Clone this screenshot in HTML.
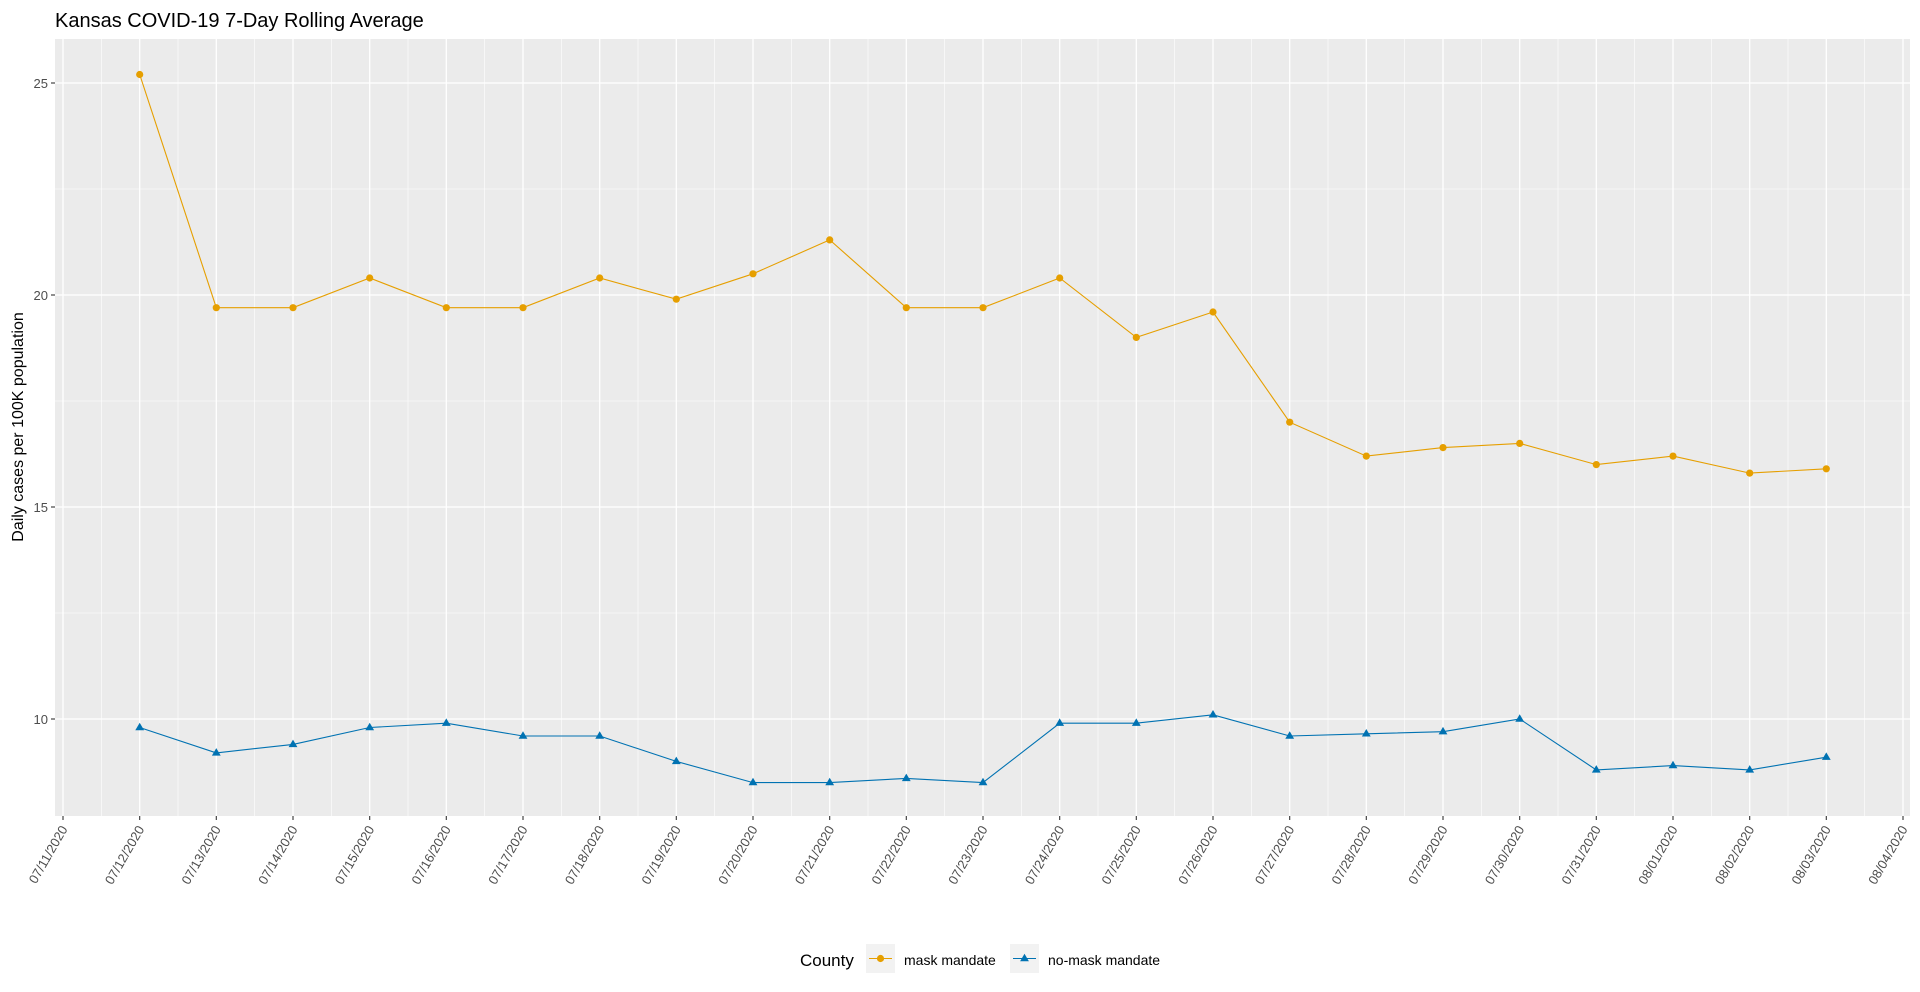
<!DOCTYPE html>
<html><head><meta charset="utf-8"><style>html,body{margin:0;padding:0;background:#fff;}svg{display:block;font-family:"Liberation Sans",Arial,sans-serif;}</style></head>
<body>
<svg width="1920" height="992" viewBox="0 0 1920 992" xmlns="http://www.w3.org/2000/svg">
<rect width="1920" height="992" fill="#fff"/>
<text x="55" y="27" font-size="20" fill="#000">Kansas COVID-19 7-Day Rolling Average</text>
<rect x="55" y="39" width="1855" height="777" fill="#ebebeb"/>
<g stroke="#fff" stroke-width="0.6">
<line x1="55" x2="1910" y1="189" y2="189"/><line x1="55" x2="1910" y1="401" y2="401"/><line x1="55" x2="1910" y1="613" y2="613"/>
<line x1="101.3" x2="101.3" y1="39" y2="816"/><line x1="178" x2="178" y1="39" y2="816"/><line x1="254.7" x2="254.7" y1="39" y2="816"/><line x1="331.3" x2="331.3" y1="39" y2="816"/><line x1="408" x2="408" y1="39" y2="816"/><line x1="484.7" x2="484.7" y1="39" y2="816"/><line x1="561.3" x2="561.3" y1="39" y2="816"/><line x1="638" x2="638" y1="39" y2="816"/><line x1="714.7" x2="714.7" y1="39" y2="816"/><line x1="791.3" x2="791.3" y1="39" y2="816"/><line x1="868" x2="868" y1="39" y2="816"/><line x1="944.7" x2="944.7" y1="39" y2="816"/><line x1="1021.3" x2="1021.3" y1="39" y2="816"/><line x1="1098" x2="1098" y1="39" y2="816"/><line x1="1174.7" x2="1174.7" y1="39" y2="816"/><line x1="1251.3" x2="1251.3" y1="39" y2="816"/><line x1="1328" x2="1328" y1="39" y2="816"/><line x1="1404.7" x2="1404.7" y1="39" y2="816"/><line x1="1481.3" x2="1481.3" y1="39" y2="816"/><line x1="1558" x2="1558" y1="39" y2="816"/><line x1="1634.7" x2="1634.7" y1="39" y2="816"/><line x1="1711.3" x2="1711.3" y1="39" y2="816"/><line x1="1788" x2="1788" y1="39" y2="816"/><line x1="1864.7" x2="1864.7" y1="39" y2="816"/>
</g>
<g stroke="#fff" stroke-width="1.3">
<line x1="55" x2="1910" y1="83" y2="83"/><line x1="55" x2="1910" y1="295" y2="295"/><line x1="55" x2="1910" y1="507" y2="507"/><line x1="55" x2="1910" y1="719" y2="719"/>
<line x1="63" x2="63" y1="39" y2="816"/><line x1="139.7" x2="139.7" y1="39" y2="816"/><line x1="216.3" x2="216.3" y1="39" y2="816"/><line x1="293" x2="293" y1="39" y2="816"/><line x1="369.7" x2="369.7" y1="39" y2="816"/><line x1="446.3" x2="446.3" y1="39" y2="816"/><line x1="523" x2="523" y1="39" y2="816"/><line x1="599.7" x2="599.7" y1="39" y2="816"/><line x1="676.3" x2="676.3" y1="39" y2="816"/><line x1="753" x2="753" y1="39" y2="816"/><line x1="829.7" x2="829.7" y1="39" y2="816"/><line x1="906.3" x2="906.3" y1="39" y2="816"/><line x1="983" x2="983" y1="39" y2="816"/><line x1="1059.7" x2="1059.7" y1="39" y2="816"/><line x1="1136.3" x2="1136.3" y1="39" y2="816"/><line x1="1213" x2="1213" y1="39" y2="816"/><line x1="1289.7" x2="1289.7" y1="39" y2="816"/><line x1="1366.3" x2="1366.3" y1="39" y2="816"/><line x1="1443" x2="1443" y1="39" y2="816"/><line x1="1519.7" x2="1519.7" y1="39" y2="816"/><line x1="1596.3" x2="1596.3" y1="39" y2="816"/><line x1="1673" x2="1673" y1="39" y2="816"/><line x1="1749.7" x2="1749.7" y1="39" y2="816"/><line x1="1826.3" x2="1826.3" y1="39" y2="816"/><line x1="1903" x2="1903" y1="39" y2="816"/>
</g>
<polyline fill="none" stroke="#e69f00" stroke-width="1.1" points="139.7,74.5 216.3,307.7 293,307.7 369.7,278 446.3,307.7 523,307.7 599.7,278 676.3,299.2 753,273.8 829.7,239.9 906.3,307.7 983,307.7 1059.7,278 1136.3,337.4 1213,312 1289.7,422.2 1366.3,456.1 1443,447.6 1519.7,443.4 1596.3,464.6 1673,456.1 1749.7,473.1 1826.3,468.8"/>
<g fill="#e69f00">
<circle cx="139.7" cy="74.5" r="3.6"/><circle cx="216.3" cy="307.7" r="3.6"/><circle cx="293" cy="307.7" r="3.6"/><circle cx="369.7" cy="278" r="3.6"/><circle cx="446.3" cy="307.7" r="3.6"/><circle cx="523" cy="307.7" r="3.6"/><circle cx="599.7" cy="278" r="3.6"/><circle cx="676.3" cy="299.2" r="3.6"/><circle cx="753" cy="273.8" r="3.6"/><circle cx="829.7" cy="239.9" r="3.6"/><circle cx="906.3" cy="307.7" r="3.6"/><circle cx="983" cy="307.7" r="3.6"/><circle cx="1059.7" cy="278" r="3.6"/><circle cx="1136.3" cy="337.4" r="3.6"/><circle cx="1213" cy="312" r="3.6"/><circle cx="1289.7" cy="422.2" r="3.6"/><circle cx="1366.3" cy="456.1" r="3.6"/><circle cx="1443" cy="447.6" r="3.6"/><circle cx="1519.7" cy="443.4" r="3.6"/><circle cx="1596.3" cy="464.6" r="3.6"/><circle cx="1673" cy="456.1" r="3.6"/><circle cx="1749.7" cy="473.1" r="3.6"/><circle cx="1826.3" cy="468.8" r="3.6"/>
</g>
<polyline fill="none" stroke="#0072b2" stroke-width="1.1" points="139.7,727.5 216.3,752.9 293,744.4 369.7,727.5 446.3,723.2 523,736 599.7,736 676.3,761.4 753,782.6 829.7,782.6 906.3,778.4 983,782.6 1059.7,723.2 1136.3,723.2 1213,714.8 1289.7,736 1366.3,733.8 1443,731.7 1519.7,719 1596.3,769.9 1673,765.6 1749.7,769.9 1826.3,757.2"/>
<g fill="#0072b2">
<path d="M139.7,722.7 l4.4,7.5 h-8.8z"/><path d="M216.3,748.1 l4.4,7.5 h-8.8z"/><path d="M293,739.6 l4.4,7.5 h-8.8z"/><path d="M369.7,722.7 l4.4,7.5 h-8.8z"/><path d="M446.3,718.4 l4.4,7.5 h-8.8z"/><path d="M523,731.2 l4.4,7.5 h-8.8z"/><path d="M599.7,731.2 l4.4,7.5 h-8.8z"/><path d="M676.3,756.6 l4.4,7.5 h-8.8z"/><path d="M753,777.8 l4.4,7.5 h-8.8z"/><path d="M829.7,777.8 l4.4,7.5 h-8.8z"/><path d="M906.3,773.6 l4.4,7.5 h-8.8z"/><path d="M983,777.8 l4.4,7.5 h-8.8z"/><path d="M1059.7,718.4 l4.4,7.5 h-8.8z"/><path d="M1136.3,718.4 l4.4,7.5 h-8.8z"/><path d="M1213,710 l4.4,7.5 h-8.8z"/><path d="M1289.7,731.2 l4.4,7.5 h-8.8z"/><path d="M1366.3,729 l4.4,7.5 h-8.8z"/><path d="M1443,726.9 l4.4,7.5 h-8.8z"/><path d="M1519.7,714.2 l4.4,7.5 h-8.8z"/><path d="M1596.3,765.1 l4.4,7.5 h-8.8z"/><path d="M1673,760.8 l4.4,7.5 h-8.8z"/><path d="M1749.7,765.1 l4.4,7.5 h-8.8z"/><path d="M1826.3,752.4 l4.4,7.5 h-8.8z"/>
</g>
<g stroke="#333" stroke-width="1.1">
<line x1="51" x2="55" y1="83" y2="83"/><line x1="51" x2="55" y1="295" y2="295"/><line x1="51" x2="55" y1="507" y2="507"/><line x1="51" x2="55" y1="719" y2="719"/>
</g>
<g font-size="13" fill="#4d4d4d" text-anchor="end">
<text x="48" y="88">25</text><text x="48" y="300">20</text><text x="48" y="512">15</text><text x="48" y="724">10</text>
</g>
<text transform="translate(23,427) rotate(-90)" font-size="16" text-anchor="middle" fill="#000">Daily cases per 100K population</text>
<g stroke="#333" stroke-width="1.1">
<line x1="63" x2="63" y1="816" y2="820"/><line x1="139.7" x2="139.7" y1="816" y2="820"/><line x1="216.3" x2="216.3" y1="816" y2="820"/><line x1="293" x2="293" y1="816" y2="820"/><line x1="369.7" x2="369.7" y1="816" y2="820"/><line x1="446.3" x2="446.3" y1="816" y2="820"/><line x1="523" x2="523" y1="816" y2="820"/><line x1="599.7" x2="599.7" y1="816" y2="820"/><line x1="676.3" x2="676.3" y1="816" y2="820"/><line x1="753" x2="753" y1="816" y2="820"/><line x1="829.7" x2="829.7" y1="816" y2="820"/><line x1="906.3" x2="906.3" y1="816" y2="820"/><line x1="983" x2="983" y1="816" y2="820"/><line x1="1059.7" x2="1059.7" y1="816" y2="820"/><line x1="1136.3" x2="1136.3" y1="816" y2="820"/><line x1="1213" x2="1213" y1="816" y2="820"/><line x1="1289.7" x2="1289.7" y1="816" y2="820"/><line x1="1366.3" x2="1366.3" y1="816" y2="820"/><line x1="1443" x2="1443" y1="816" y2="820"/><line x1="1519.7" x2="1519.7" y1="816" y2="820"/><line x1="1596.3" x2="1596.3" y1="816" y2="820"/><line x1="1673" x2="1673" y1="816" y2="820"/><line x1="1749.7" x2="1749.7" y1="816" y2="820"/><line x1="1826.3" x2="1826.3" y1="816" y2="820"/><line x1="1903" x2="1903" y1="816" y2="820"/>
</g>
<g font-size="13" fill="#4d4d4d" text-anchor="end">
<text transform="translate(68,829) rotate(-60)">07/11/2020</text>
<text transform="translate(144.7,829) rotate(-60)">07/12/2020</text>
<text transform="translate(221.3,829) rotate(-60)">07/13/2020</text>
<text transform="translate(298,829) rotate(-60)">07/14/2020</text>
<text transform="translate(374.7,829) rotate(-60)">07/15/2020</text>
<text transform="translate(451.3,829) rotate(-60)">07/16/2020</text>
<text transform="translate(528,829) rotate(-60)">07/17/2020</text>
<text transform="translate(604.7,829) rotate(-60)">07/18/2020</text>
<text transform="translate(681.3,829) rotate(-60)">07/19/2020</text>
<text transform="translate(758,829) rotate(-60)">07/20/2020</text>
<text transform="translate(834.7,829) rotate(-60)">07/21/2020</text>
<text transform="translate(911.3,829) rotate(-60)">07/22/2020</text>
<text transform="translate(988,829) rotate(-60)">07/23/2020</text>
<text transform="translate(1064.7,829) rotate(-60)">07/24/2020</text>
<text transform="translate(1141.3,829) rotate(-60)">07/25/2020</text>
<text transform="translate(1218,829) rotate(-60)">07/26/2020</text>
<text transform="translate(1294.7,829) rotate(-60)">07/27/2020</text>
<text transform="translate(1371.3,829) rotate(-60)">07/28/2020</text>
<text transform="translate(1448,829) rotate(-60)">07/29/2020</text>
<text transform="translate(1524.7,829) rotate(-60)">07/30/2020</text>
<text transform="translate(1601.3,829) rotate(-60)">07/31/2020</text>
<text transform="translate(1678,829) rotate(-60)">08/01/2020</text>
<text transform="translate(1754.7,829) rotate(-60)">08/02/2020</text>
<text transform="translate(1831.3,829) rotate(-60)">08/03/2020</text>
<text transform="translate(1908,829) rotate(-60)">08/04/2020</text>
</g>
<text x="800" y="966" font-size="17" fill="#000">County</text>
<rect x="866" y="944" width="29" height="29" fill="#f2f2f2"/>
<line x1="869" x2="892" y1="958.5" y2="958.5" stroke="#e69f00" stroke-width="1.1"/>
<circle cx="880.5" cy="958.5" r="3.6" fill="#e69f00"/>
<text x="904" y="965" font-size="14" fill="#000">mask mandate</text>
<rect x="1010" y="944" width="29" height="29" fill="#f2f2f2"/>
<line x1="1013" x2="1036" y1="958.5" y2="958.5" stroke="#0072b2" stroke-width="1.1"/>
<path d="M1024.5,953.7 l4.4,7.5 h-8.8z" fill="#0072b2"/>
<text x="1048" y="965" font-size="14" fill="#000">no-mask mandate</text>
</svg>
</body></html>
